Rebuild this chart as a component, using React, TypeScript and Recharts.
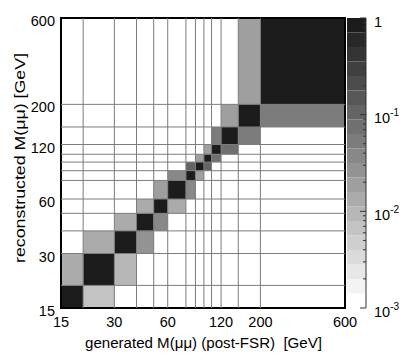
import React from 'react';
import {
  ScatterChart,
  Scatter,
  XAxis,
  YAxis,
  ReferenceArea,
  ReferenceLine,
} from 'recharts';

// bin edges in GeV (same binning for generated and reconstructed mass)
const binEdges = [15, 20, 30, 40, 50, 60, 76, 86, 96, 106, 120, 150, 200, 600];
const axisTicks = [15, 30, 60, 120, 200, 600];

// fraction in the diagonal bin (reco bin == gen bin)
const diagonal = [0.92, 0.9, 0.88, 0.86, 0.87, 0.85, 0.8, 0.8, 0.82, 0.85, 0.88, 0.9, 0.95];
// reco bin = gen bin - 1, for gen bins 1..12
const belowDiag = [0.0065, 0.0095, 0.027, 0.038, 0.013, 0.038, 0.022, 0.1, 0.075, 0.075, 0.045, 0.053];
// reco bin = gen bin + 1, for gen bins 0..11
const aboveDiag = [0.013, 0.013, 0.013, 0.013, 0.019, 0.038, 0.1, 0.022, 0.022, 0.053, 0.022, 0.019];

const zTicks = [0.001, 0.01, 0.1, 1];
const zMinor = [2, 3, 4, 5, 6, 7, 8, 9];

const FONT = '"Liberation Sans", Arial, Helvetica, sans-serif';
const N_CONT = 20;

const grayFor = (v: number) => {
  const k = Math.min(N_CONT - 1, Math.max(0, Math.floor((Math.log10(v) + 3) / (3 / N_CONT))));
  const g = Math.round(255 - (k * 227) / (N_CONT - 1));
  return `rgb(${g},${g},${g})`;
};

type Cell = { gen: number; rec: number; value: number };
const cells: Cell[] = [];
diagonal.forEach((v, i) => cells.push({ gen: i, rec: i, value: v }));
belowDiag.forEach((v, i) => cells.push({ gen: i + 1, rec: i, value: v }));
aboveDiag.forEach((v, i) => cells.push({ gen: i, rec: i + 1, value: v }));

const centers = cells.map((c) => ({
  x: Math.sqrt(binEdges[c.gen] * binEdges[c.gen + 1]),
  y: Math.sqrt(binEdges[c.rec] * binEdges[c.rec + 1]),
}));

// colour palette levels for the z bar
const zLevels = Array.from({ length: N_CONT }, (_, k) => ({
  lo: Math.pow(10, -3 + (k * 3) / N_CONT),
  hi: Math.pow(10, -3 + ((k + 1) * 3) / N_CONT),
}));
const zAllTicks: number[] = [];
zTicks.forEach((t) => {
  zAllTicks.push(t);
  if (t < 1) zMinor.forEach((m) => zAllTicks.push(t * m));
});

const XTick = (props: any) => {
  const { x, y, payload } = props;
  return (
    <text x={x} y={y + 19} textAnchor="middle" fontSize={14.5} fontFamily={FONT} fill="#000">
      {payload.value}
    </text>
  );
};

const YTick = (props: any) => {
  const { x, y, payload } = props;
  return (
    <text x={x - 6} y={y + 8} textAnchor="end" fontSize={14.5} fontFamily={FONT} fill="#000">
      {payload.value}
    </text>
  );
};

const ZTick = (props: any) => {
  const { x, y, payload } = props;
  const v = payload.value as number;
  const exp = Math.round(Math.log10(v));
  const major = Math.abs(Math.log10(v) - exp) < 1e-6;
  return (
    <g>
      <line x1={x} x2={x - (major ? 6 : 3)} y1={y} y2={y} stroke="#333" strokeWidth={1} />
      {major && (
        <text x={x + 8} y={y + 8.5} fontSize={14.5} fontFamily={FONT} fill="#000">
          {exp === 0 ? '1' : '10'}
          {exp !== 0 && (
            <tspan fontSize={10} dy={-7}>
              {String(exp)}
            </tspan>
          )}
        </text>
      )}
    </g>
  );
};

export default function App() {
  const W = 407;
  const H = 364;
  return (
    <div style={{ position: 'absolute', left: 0, top: 0, width: W, height: H, background: '#fff' }}>
      <div style={{ position: 'absolute', left: 0, top: 0 }}>
        <ScatterChart width={W} height={H} margin={{ top: 18, right: 62, bottom: 0, left: 0 }}>
          <XAxis
            type="number"
            dataKey="x"
            scale="log"
            domain={[15, 600]}
            ticks={axisTicks}
            interval={0}
            allowDataOverflow
            height={56}
            tickSize={0}
            tickMargin={0}
            tickLine={false}
            axisLine={false}
            tick={<XTick />}
          />
          <YAxis
            type="number"
            dataKey="y"
            scale="log"
            domain={[15, 600]}
            ticks={axisTicks}
            interval={0}
            allowDataOverflow
            width={61}
            tickSize={0}
            tickMargin={0}
            tickLine={false}
            axisLine={false}
            tick={<YTick />}
          />
          {cells.map((c, i) => (
            <ReferenceArea
              key={'c' + i}
              x1={binEdges[c.gen]}
              x2={binEdges[c.gen + 1]}
              y1={binEdges[c.rec]}
              y2={binEdges[c.rec + 1]}
              fill={grayFor(c.value)}
              fillOpacity={1}
              stroke="none"
            />
          ))}
          {binEdges.slice(1, -1).map((e) => (
            <ReferenceLine key={'vx' + e} x={e} stroke="#7c7c7c" strokeWidth={1} />
          ))}
          {binEdges.slice(1, -1).map((e) => (
            <ReferenceLine key={'hy' + e} y={e} stroke="#7c7c7c" strokeWidth={1} />
          ))}
          <ReferenceArea x1={15} x2={600} y1={15} y2={600} fill="none" stroke="#000" strokeWidth={2} />
          <Scatter data={centers} isAnimationActive={false} shape={() => <g />} legendType="none" />
        </ScatterChart>
      </div>
      <div style={{ position: 'absolute', left: 0, top: 0 }}>
        <ScatterChart width={W} height={H} margin={{ top: 18, right: 0, bottom: 56, left: 347 }}>
          <XAxis type="number" dataKey="x" domain={[0, 1]} hide />
          <YAxis
            type="number"
            dataKey="y"
            scale="log"
            domain={[0.001, 1]}
            orientation="right"
            ticks={zAllTicks}
            interval={0}
            allowDataOverflow
            width={41}
            tickSize={0}
            tickMargin={0}
            tickLine={false}
            axisLine={{ stroke: '#333', strokeWidth: 1 }}
            tick={<ZTick />}
          />
          {zLevels.map((l, k) => (
            <ReferenceArea
              key={'z' + k}
              x1={0}
              x2={1}
              y1={l.lo}
              y2={l.hi}
              fill={grayFor(Math.sqrt(l.lo * l.hi))}
              fillOpacity={1}
              stroke="none"
            />
          ))}
          <Scatter data={[{ x: 0.5, y: 0.5 }]} isAnimationActive={false} shape={() => <g />} legendType="none" />
        </ScatterChart>
      </div>
      <svg width={W} height={H} style={{ position: 'absolute', left: 0, top: 0, pointerEvents: 'none' }}>
        <text
          x={85}
          y={348}
          fontSize={14}
          fontFamily={FONT}
          fill="#000"
          textLength={237}
          lengthAdjust="spacingAndGlyphs"
        >
          {'generated M(μμ) (post-FSR)\u00a0\u00a0[GeV]'}
        </text>
        <text
          x={0}
          y={0}
          transform="translate(25,263) rotate(-90)"
          fontSize={15}
          fontFamily={FONT}
          fill="#000"
          textLength={210}
          lengthAdjust="spacingAndGlyphs"
        >
          reconstructed M(μμ) [GeV]
        </text>
      </svg>
    </div>
  );
}
